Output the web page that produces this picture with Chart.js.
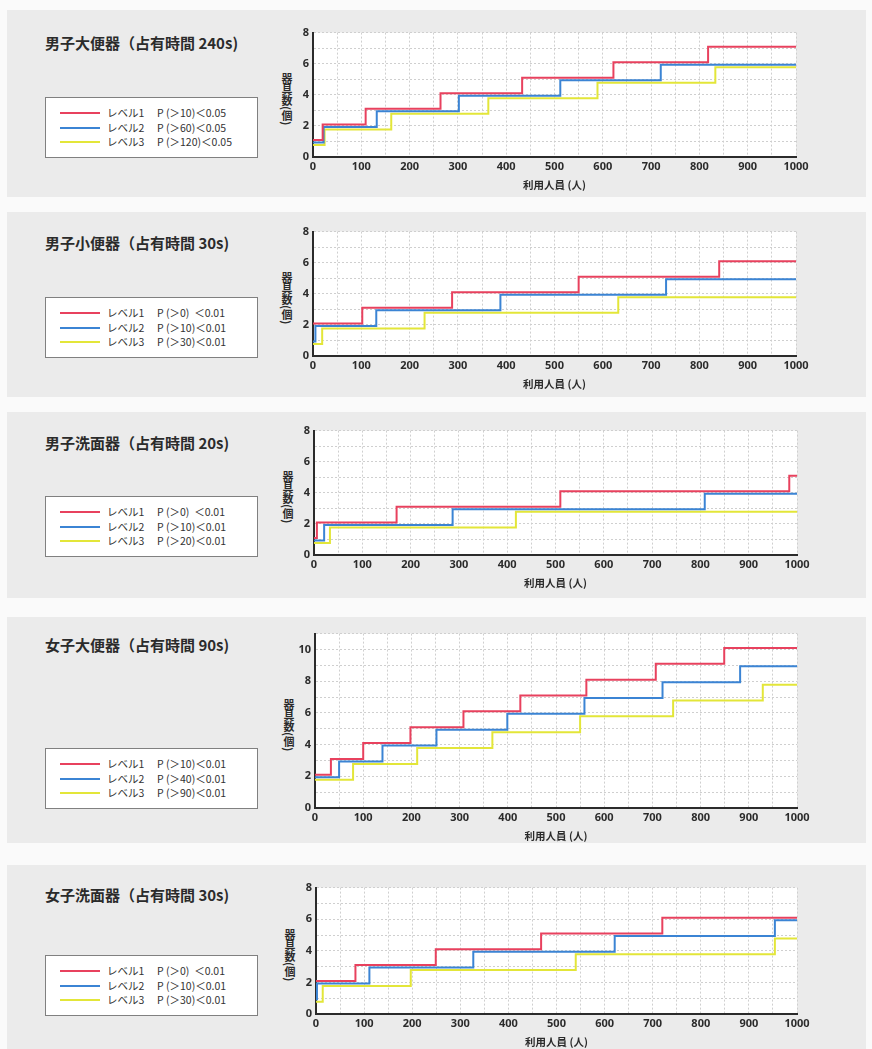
<!DOCTYPE html>
<html lang="ja">
<head>
<meta charset="utf-8">
<title>器具数</title>
<script src="https://cdn.jsdelivr.net/npm/chart.js@4.4.1/dist/chart.umd.min.js"></script>
<style>
  body { margin: 0; background: #fafafa; font-family: "Noto Sans CJK JP", "Noto Sans", sans-serif; color: #333; }
  #page { position: relative; width: 872px; height: 1049px; overflow: hidden; }
  .panel { position: absolute; left: 7px; width: 859px; background: #ebebeb; }
  .ptitle { position: absolute; left: 38px; font-size: 15px; font-weight: bold; line-height: 20px; white-space: nowrap; color: #2b2b2b; }
  .legend { position: absolute; left: 38px; width: 213px; height: 61px; background: #fff; border: 1px solid #808080; box-sizing: border-box; }
  .row { position: absolute; left: 0; width: 100%; height: 14px; font-size: 10.5px; line-height: 14px; white-space: pre; }
  .row i { position: absolute; left: 14px; top: 6px; width: 40px; height: 2px; }
  .row .lv { position: absolute; left: 61px; }
  .row .cond { position: absolute; left: 111px; }
  .ylab { position: absolute; width: 16px; display: flex; align-items: center; justify-content: center; }
  .ylab span { display: block; writing-mode: vertical-rl; font-size: 11px; font-weight: bold; line-height: 14px; color: #2b2b2b; }
  canvas { position: absolute; }
</style>
</head>
<body>
<div id="page"></div>
<script>
const panelTitles = [
  '男子大便器（占有時間 240s)',
  '男子小便器（占有時間 30s)',
  '男子洗面器（占有時間 20s)',
  '女子大便器（占有時間 90s)',
  '女子洗面器（占有時間 30s)'
];
const levelNames = ['レベル1', 'レベル2', 'レベル3'];
const legendConds = [
  ['P (＞10)＜0.05', 'P (＞60)＜0.05', 'P (＞120)＜0.05'],
  ['P (＞0)  ＜0.01', 'P (＞10)＜0.01', 'P (＞30)＜0.01'],
  ['P (＞0)  ＜0.01', 'P (＞10)＜0.01', 'P (＞20)＜0.01'],
  ['P (＞10)＜0.01', 'P (＞40)＜0.01', 'P (＞90)＜0.01'],
  ['P (＞0)  ＜0.01', 'P (＞10)＜0.01', 'P (＞30)＜0.01']
];
const xTitle = '利用人員 (人)';
const yTitle = '器具数(個)';
const yMaxes = [8, 8, 8, 11, 8];

// [利用人員, 器具数] step points
const daiM1 = [[0,1],[20,2],[109,3],[264,4],[433,5],[622,6],[818,7],[1000,7]];
const daiM2 = [[0,1],[22,2],[132,3],[302,4],[512,5],[720,6],[1000,6]];
const daiM3 = [[0,1],[24,2],[162,3],[363,4],[589,5],[833,6],[1000,6]];

const shoM1 = [[0,2],[102,3],[288,4],[550,5],[841,6],[1000,6]];
const shoM2 = [[0,1],[5,2],[131,3],[388,4],[731,5],[1000,5]];
const shoM3 = [[0,1],[19,2],[231,3],[632,4],[1000,4]];

const senM1 = [[0,1],[6,2],[171,3],[510,4],[984,5],[1000,5]];
const senM2 = [[0,1],[21,2],[287,3],[809,4],[1000,4]];
const senM3 = [[0,1],[33,2],[418,3],[1000,3]];

const daiF1 = [[0,2],[33,3],[100,4],[198,5],[308,6],[426,7],[563,8],[707,9],[849,10],[1000,10]];
const daiF2 = [[0,2],[50,3],[140,4],[252,5],[399,6],[559,7],[721,8],[882,9],[1000,9]];
const daiF3 = [[0,2],[79,3],[212,4],[368,5],[550,6],[743,7],[929,8],[1000,8]];

const senF1 = [[0,2],[82,3],[249,4],[468,5],[720,6],[1000,6]];
const senF2 = [[0,1],[2,2],[111,3],[327,4],[621,5],[954,6],[1000,6]];
const senF3 = [[0,1],[14,2],[197,3],[540,4],[954,5],[1000,5]];

const panelSeries = [
  [daiM1, daiM2, daiM3],
  [shoM1, shoM2, shoM3],
  [senM1, senM2, senM3],
  [daiF1, daiF2, daiF3],
  [senF1, senF2, senF3]
];

// look
const levelColors = ['#e8415e', '#3b84d4', '#e3e639'];
const levelShift = [-1.5, 1, 3.5];   // px, keeps overlapping steps apart like the print
const panelBoxes = [
  { top: 10,  h: 187, titleY: 23, legendY: 87,  plot: [313, 32, 796, 157] },
  { top: 212, h: 185, titleY: 21, legendY: 85,  plot: [313, 231, 796, 356] },
  { top: 412, h: 186, titleY: 21, legendY: 84,  plot: [314, 430, 797, 555] },
  { top: 617, h: 226, titleY: 18, legendY: 131, plot: [315, 633, 797, 808] },
  { top: 865, h: 184, titleY: 20, legendY: 90,  plot: [316, 887, 797, 1014] }
];
const YW = 30, PT = 10, PR = 18, XH = 34;
const numFont = '"Noto Sans", "DejaVu Sans", sans-serif';
const cjkFont = '"Noto Sans CJK JP", sans-serif';

const plotBg = {
  id: 'plotBg',
  beforeDraw(chart) {
    const a = chart.chartArea, ctx = chart.ctx;
    ctx.save();
    ctx.fillStyle = '#ffffff';
    ctx.fillRect(a.left, a.top, a.right - a.left, a.bottom - a.top);
    ctx.restore();
  }
};
const lineShift = {
  id: 'lineShift',
  beforeDatasetDraw(chart, args) {
    chart.ctx.save();
    chart.ctx.translate(0, chart.data.datasets[args.index].shift || 0);
  },
  afterDatasetDraw(chart) {
    chart.ctx.restore();
  }
};

const page = document.getElementById('page');

panelBoxes.forEach((box, p) => {
  const panel = document.createElement('div');
  panel.className = 'panel';
  panel.style.top = box.top + 'px';
  panel.style.height = box.h + 'px';
  page.appendChild(panel);

  const t = document.createElement('div');
  t.className = 'ptitle';
  t.style.top = box.titleY + 'px';
  t.textContent = panelTitles[p];
  panel.appendChild(t);

  const lg = document.createElement('div');
  lg.className = 'legend';
  lg.style.top = box.legendY + 'px';
  levelNames.forEach((name, k) => {
    const row = document.createElement('div');
    row.className = 'row';
    row.style.top = (8 + k * 14.5) + 'px';
    row.innerHTML = '<i style="background:' + levelColors[k] + '"></i><span class="lv">' + name +
      '</span><span class="cond">' + legendConds[p][k] + '</span>';
    lg.appendChild(row);
  });
  panel.appendChild(lg);

  const [L, T, R, B] = box.plot;

  const yl = document.createElement('div');
  yl.className = 'ylab';
  yl.style.left = (L - 34) + 'px';
  yl.style.top = (T + 5) + 'px';
  yl.style.height = (B - T) + 'px';
  yl.innerHTML = '<span>' + yTitle + '</span>';
  page.appendChild(yl);

  const cv = document.createElement('canvas');
  const w = (R - L) + YW + PR, h = (B - T) + PT + XH;
  cv.width = w; cv.height = h;
  cv.style.left = (L - YW) + 'px';
  cv.style.top = (T - PT) + 'px';
  cv.style.width = w + 'px';
  cv.style.height = h + 'px';
  page.appendChild(cv);

  const gridOpts = { color: '#cfcfcf', lineWidth: 1, drawTicks: false };
  const borderOpts = { color: '#2b2b2b', width: 2, dash: [2, 2] };

  new Chart(cv, {
    type: 'line',
    data: {
      datasets: panelSeries[p].map((pts, k) => ({
        label: levelNames[k],
        data: pts.map(d => ({ x: d[0], y: d[1] })),
        borderColor: levelColors[k],
        borderWidth: 2,
        stepped: 'before',
        pointRadius: 0,
        fill: false,
        shift: levelShift[k]
      }))
    },
    options: {
      responsive: false,
      animation: false,
      devicePixelRatio: 1,
      layout: { padding: { top: PT, right: PR, left: 0, bottom: 0 } },
      plugins: { legend: { display: false }, tooltip: { enabled: false } },
      scales: {
        x: {
          type: 'linear', min: 0, max: 1000,
          afterFit: s => { s.height = XH; },
          ticks: {
            stepSize: 50, autoSkip: false, maxRotation: 0, padding: 3, color: '#2b2b2b',
            font: { size: 11, weight: 'bold', family: numFont },
            callback: v => (v % 100 === 0 ? v : '')
          },
          grid: gridOpts,
          border: borderOpts,
          title: {
            display: true, text: xTitle, color: '#2b2b2b', padding: 0,
            font: { size: 10.5, weight: 'bold', family: cjkFont }
          }
        },
        y: {
          min: 0, max: yMaxes[p],
          afterFit: s => { s.width = YW; },
          ticks: {
            stepSize: 1, autoSkip: false, padding: 4, color: '#2b2b2b',
            font: { size: 11, weight: 'bold', family: numFont },
            callback: v => (v % 2 === 0 ? v : '')
          },
          grid: gridOpts,
          border: borderOpts
        }
      }
    },
    plugins: [plotBg, lineShift]
  });
});
</script>
</body>
</html>
